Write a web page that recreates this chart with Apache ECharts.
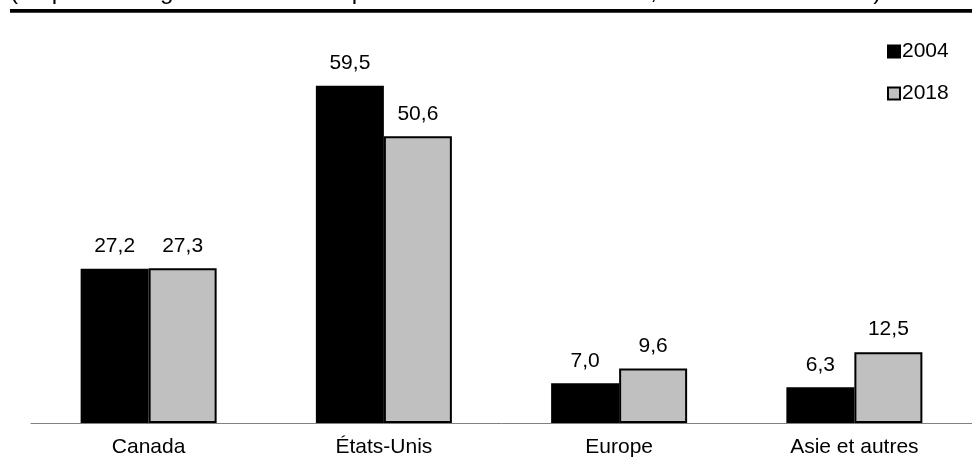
<!DOCTYPE html>
<html>
<head>
<meta charset="utf-8">
<script src="https://cdn.jsdelivr.net/npm/echarts@6/dist/echarts.min.js"></script>
<style>html,body{margin:0;padding:0;background:#fff}#c{width:972px;height:462px}</style>
</head>
<body>
<div id="c"></div>
<script>
const categories = ['Canada', 'États-Unis', 'Europe', 'Asie et autres'];
const seriesNames = ['2004', '2018'];
const values2004 = [27.2, 59.5, 7.0, 6.3];
const values2018 = [27.3, 50.6, 9.6, 12.5];
const subtitleText = '(en pourcentage du total des exportations de marchandises, en 2004 et en 2018)';

const FONT = 'Arial, "Liberation Sans", sans-serif';
const fmt = p => p.value.toFixed(1).replace('.', ',');
const chart = echarts.init(document.getElementById('c'));
chart.setOption({
  animation: false,
  backgroundColor: '#ffffff',
  graphic: [
    { type: 'text', left: 10, top: -20, style: { text: subtitleText, font: '24.3px ' + FONT, fill: '#000' } },
    { type: 'rect', shape: { x: 10, y: 9, width: 962, height: 3.7 }, style: { fill: '#000' } }
  ],
  legend: {
    orient: 'vertical', left: 887, top: 41, itemGap: 21, padding: 0,
    itemWidth: 12, itemHeight: 12, icon: 'rect',
    textStyle: { fontFamily: FONT, fontSize: 21, color: '#000', padding: [0, 0, 0, -3] },
    data: seriesNames
  },
  grid: { left: 31, right: -4, top: 83, bottom: 39 },
  xAxis: {
    type: 'category', data: categories,
    axisTick: { show: false },
    axisLine: { lineStyle: { color: '#808080', width: 1 } },
    axisLabel: { margin: 14, fontFamily: FONT, fontSize: 21, color: '#000' }
  },
  yAxis: { type: 'value', min: 0, max: 60, show: false, splitLine: { show: false } },
  series: [
    {
      name: seriesNames[0], type: 'bar', data: values2004, barWidth: 68, barGap: '0%',
      itemStyle: { color: '#000000', borderColor: '#000', borderWidth: 2 },
      label: { show: true, position: 'top', distance: 12, formatter: fmt, fontFamily: FONT, fontSize: 21, color: '#000' }
    },
    {
      name: seriesNames[1], type: 'bar', data: values2018, barWidth: 68, barGap: '0%',
      itemStyle: { color: '#c0c0c0', borderColor: '#000', borderWidth: 2 },
      label: { show: true, position: 'top', distance: 12, formatter: fmt, fontFamily: FONT, fontSize: 21, color: '#000' }
    }
  ]
});
</script>
</body>
</html>
